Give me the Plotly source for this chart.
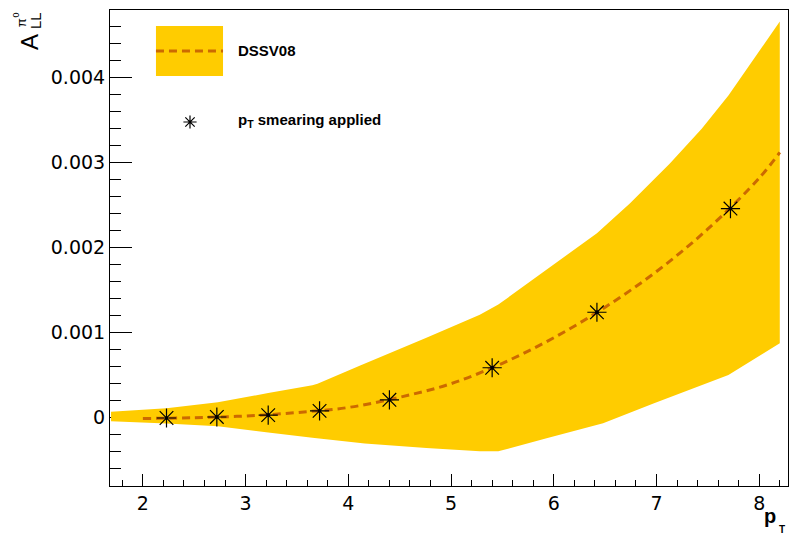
import plotly.graph_objects as go

# ---------------- data ----------------
band_x_upper = [1.69, 2.23, 2.73, 3.22, 3.65, 3.70, 4.11, 4.76, 5.28, 5.46, 6.42, 6.74, 7.13, 7.44, 7.70, 8.20]
band_upper = [0.00007, 0.00011, 0.00018, 0.00029, 0.00038, 0.00040, 0.00061, 0.00094,
              0.00121, 0.00133, 0.00217, 0.00252, 0.00299, 0.00340, 0.00379, 0.00466]
band_x_lower = [1.69, 2.23, 2.73, 3.22, 3.65, 4.16, 4.76, 5.28, 5.46, 5.93, 6.48, 6.97, 7.70, 8.20]
band_lower = [-0.000043, -0.00007, -0.00010, -0.000176, -0.000235, -0.000305, -0.000356,
              -0.000396, -0.000396, -0.000242, -0.000066, 0.000168, 0.000503, 0.000876]

curve_x = [2.0, 2.5, 3.0, 3.5, 4.0, 4.5, 5.0, 5.5, 6.0, 6.5, 7.0, 7.5, 8.0, 8.2]
curve_y = [-0.00001, 0.0, 0.00002, 0.00006, 0.00012, 0.00024, 0.00040, 0.00064,
           0.00094, 0.00130, 0.00172, 0.00222, 0.00282, 0.00312]

pt_x = [2.23, 2.72, 3.22, 3.72, 4.40, 5.40, 6.42, 7.72]
pt_y = [-0.000004, 0.000008, 0.00003, 0.00008, 0.00021, 0.000587, 0.00124, 0.00246]

x_ticks = [2, 3, 4, 5, 6, 7, 8]
y_ticks = [0, 0.001, 0.002, 0.003, 0.004]
y_ticklabels = ["0", "0.001", "0.002", "0.003", "0.004"]

legend_labels = ["DSSV08", "p<sub>T</sub> smearing applied"]

BAND = "#FFCC00"
LINE = "#CC6A00"

fig = go.Figure()

# band
fig.add_trace(go.Scatter(
    x=band_x_upper + band_x_lower[::-1],
    y=band_upper + band_lower[::-1],
    fill="toself", fillcolor=BAND, mode="none", hoverinfo="skip", showlegend=False))

# theory curve
fig.add_trace(go.Scatter(
    x=curve_x, y=curve_y, mode="lines", line=dict(color=LINE, width=3, dash="8px,5px", shape="spline"),
    showlegend=False))

# points
fig.add_trace(go.Scatter(
    x=pt_x, y=pt_y, mode="markers",
    marker=dict(symbol="asterisk-open", size=16, color="black", line=dict(color="black", width=1.2)),
    showlegend=False))
fig.add_trace(go.Scatter(
    x=pt_x, y=pt_y, mode="markers",
    marker=dict(symbol="circle", size=3.5, color="black"), hoverinfo="skip", showlegend=False))

# legend marker on overlay axes (paper-like 0..1)
fig.add_trace(go.Scatter(
    x=[0.118], y=[0.7647], xaxis="x2", yaxis="y2", mode="markers",
    marker=dict(symbol="asterisk-open", size=11, color="black", line=dict(color="black", width=1.2)),
    showlegend=False, hoverinfo="skip"))

tickfont = dict(family="DejaVu Sans", size=19, color="black")

fig.update_layout(
    width=790, height=537,
    margin=dict(l=110, r=2, t=10, b=51),
    paper_bgcolor="white", plot_bgcolor="white",
    showlegend=False,
    xaxis=dict(range=[1.68, 8.28], tickvals=x_ticks, ticks="inside", ticklen=12, tickwidth=1,
               tickcolor="black", showline=True, linecolor="black", linewidth=1, mirror=True,
               showgrid=False, zeroline=False, tickfont=tickfont, layer="below traces", automargin=False,
               minor=dict(ticks="inside", ticklen=6, tickwidth=1, tickcolor="black",
                          tick0=0, dtick=0.2, showgrid=False)),
    yaxis=dict(range=[-0.000804, 0.004796], tickvals=y_ticks, ticktext=y_ticklabels,
               ticks="inside", ticklen=22, tickwidth=1, tickcolor="black",
               showline=True, linecolor="black", linewidth=1, mirror=True, automargin=False,
               showgrid=False, zeroline=False, tickfont=tickfont, layer="below traces",
               minor=dict(ticks="inside", ticklen=11, tickwidth=1, tickcolor="black",
                          tick0=0, dtick=0.0002, showgrid=False)),
    xaxis2=dict(overlaying="x", range=[0, 1], visible=False, fixedrange=True),
    yaxis2=dict(overlaying="y", range=[0, 1], visible=False, fixedrange=True),
)

# legend box and line
fig.add_shape(type="rect", xref="paper", yref="paper", x0=0.0678, x1=0.1667, y0=0.8613, y1=0.9664,
              fillcolor=BAND, line=dict(width=0))
fig.add_shape(type="line", xref="paper", yref="paper", x0=0.0678, x1=0.1667, y0=0.9139, y1=0.9139,
              line=dict(color=LINE, width=3, dash="8px,5px"))

lf = dict(family="Liberation Sans", size=15, color="black")
fig.add_annotation(x=0.1860, y=0.9139, xref="paper", yref="paper", text="<b>%s</b>" % legend_labels[0],
                   showarrow=False, xanchor="left", yanchor="middle", font=lf)
fig.add_annotation(x=0.1860, y=0.768, xref="paper", yref="paper", text="<b>%s</b>" % legend_labels[1],
                   showarrow=False, xanchor="left", yanchor="middle", font=lf)

# y-axis title  A_LL^{pi^0}
tf = "Liberation Sans"
fig.add_annotation(x=-0.1180, y=0.9328, xref="paper", yref="paper", text="A", textangle=-90,
                   showarrow=False, xanchor="center", yanchor="middle", font=dict(family=tf, size=24, color="black"))
fig.add_annotation(x=-0.1090, y=0.9770, xref="paper", yref="paper", text="LL", textangle=-90,
                   showarrow=False, xanchor="center", yanchor="middle", font=dict(family=tf, size=15, color="black"))
fig.add_annotation(x=-0.1300, y=0.9740, xref="paper", yref="paper", text="π", textangle=-90,
                   showarrow=False, xanchor="center", yanchor="middle", font=dict(family=tf, size=13, color="black"))
fig.add_annotation(x=-0.1390, y=0.9900, xref="paper", yref="paper", text="0", textangle=-90,
                   showarrow=False, xanchor="center", yanchor="middle", font=dict(family=tf, size=9, color="black"))

# x-axis title p_T
fig.add_annotation(x=(770 - 110) / 678, y=(486 - 516) / 476, xref="paper", yref="paper", text="<b>p</b>",
                   showarrow=False, xanchor="center", yanchor="middle", font=dict(family=tf, size=20, color="black"))
fig.add_annotation(x=(782 - 110) / 678, y=(486 - 529) / 476, xref="paper", yref="paper", text="<b>T</b>",
                   showarrow=False, xanchor="center", yanchor="middle", font=dict(family=tf, size=10, color="black"))

fig.write_html("out.html",
               config={"displayModeBar": False},
               post_script="document.body.style.margin='0';document.body.style.padding='0';"
                           "document.body.style.overflow='hidden';")
